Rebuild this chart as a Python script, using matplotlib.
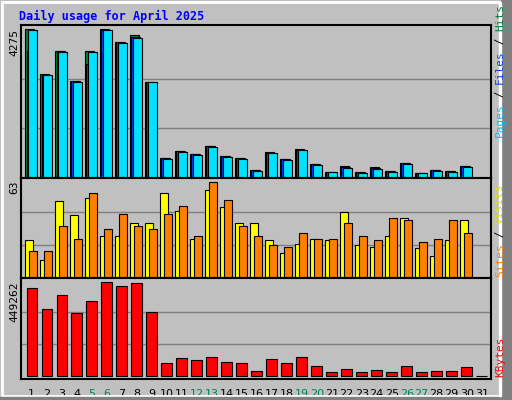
import numpy as np
import matplotlib.pyplot as plt
from matplotlib.patches import Rectangle

days = np.arange(1, 32)
hits = [4275, 2995, 3660, 2793, 3660, 4275, 3920, 4100, 2765, 569, 771, 684, 915, 627, 569, 222,
        722, 545, 810, 400, 170, 318, 170, 290, 200, 430, 140, 230, 200, 345, 0]
files = [3640, 2970, 3635, 2770, 3283, 4250, 3900, 4060, 2750, 555, 755, 670, 900, 610, 555, 210,
         705, 520, 795, 380, 160, 295, 150, 270, 185, 410, 120, 215, 185, 325, 0]
pages = [4245, 2966, 3630, 2765, 3630, 4250, 3890, 4035, 2765, 540, 742, 655, 886, 598, 540, 200,
         700, 505, 790, 365, 160, 270, 130, 250, 170, 395, 130, 199, 170, 308, 0]
visits = [24, 11.5, 49, 40, 51, 27, 27, 35, 35, 54, 43, 25, 56, 45, 35, 35,
          24, 16, 22, 25, 24.5, 42, 21, 20, 27, 38, 19, 14, 24, 37, 0]
sites = [17, 17, 33, 25, 54, 31, 41, 33, 31, 41, 46, 27, 61, 50, 33, 27,
         21, 20, 29, 25, 25, 35, 27, 24, 38, 37, 23, 25, 37, 29, 0]
kbytes = [408000, 312600, 379000, 293000, 351000, 437000, 418000, 432000, 298000, 59000, 83000,
          74000, 88000, 64000, 59000, 21000, 78000, 59000, 88000, 45000, 16000, 31000, 16000,
          26000, 16000, 45000, 16000, 21000, 21000, 40000, 0]
weekends = [5, 6, 12, 13, 19, 20, 26, 27]

W, H = 512, 400
fig = plt.figure(figsize=(W / 100, H / 100), dpi=100)
fig.patch.set_facecolor('#C0C0C0')
mono = 'DejaVu Sans Mono'


def px_axes(x0, y0, x1, y1):
    ax = fig.add_axes([x0 / W, 1 - y1 / H, (x1 - x0) / W, (y1 - y0) / H])
    ax.set_facecolor('#C0C0C0')
    ax.set_xticks([])
    ax.set_yticks([])
    for s in ax.spines.values():
        s.set_linewidth(1.5)
    ax.set_xlim(0.713, 32.05)
    return ax


# frame
fig.add_artist(Rectangle((2 / W, 4 / H), 506 / W, 394 / H, transform=fig.transFigure,
                         fill=False, edgecolor='white', lw=2))
fig.add_artist(Rectangle((0, 0), 1, 3 / H, transform=fig.transFigure, color='#808080'))
fig.add_artist(Rectangle((1 - 11 / W, 0), 11 / W, 1, transform=fig.transFigure, color='#808080'))
fig.add_artist(Rectangle((1 - 13 / W, 4 / H), 2 / W, 394 / H, transform=fig.transFigure, color='white'))

fig.text(19 / W, 1 - 16 / H, 'Daily usage for April 2025', color='#0000FF', fontsize=8.5,
         family=mono, fontweight='bold', va='center')

kw = dict(edgecolor='black', linewidth=0.8, align='edge')

# hits / files / pages
ax1 = px_axes(20.7, 25, 490.7, 177.5)
ax1.set_ylim(0, 4399)
for g in (1425, 2850):
    ax1.axhline(g, color='#808080', lw=1, zorder=0)
ax1.bar(days, hits, width=0.6, color='#008040', **kw)
ax1.bar(days + 0.1, files, width=0.6, color='#0040FF', **kw)
ax1.bar(days + 0.2, pages, width=0.6, color='#00E0FF', **kw)

# visits / sites
ax2 = px_axes(20.7, 177.5, 490.7, 278)
ax2.set_ylim(0, 64.1)
for g in (21, 42):
    ax2.axhline(g, color='#808080', lw=1, zorder=0)
ax2.bar(days, visits, width=0.55, color='#FFFF00', **kw)
ax2.bar(days + 0.27, sites, width=0.5, color='#FF8000', **kw)

# kbytes
ax3 = px_axes(20.7, 278, 490.7, 379)
ax3.set_ylim(-15800, 457000)
for g in (149754, 299508):
    ax3.axhline(g, color='#808080', lw=1, zorder=0)
ax3.bar(days + 0.1, kbytes, width=0.67, color='#FF0000', **kw)

# max labels
for y, txt in ((29, '4275'), (181, '63'), (281, '449262')):
    fig.text(19 / W, 1 - y / H, txt, rotation=90, ha='right', va='top', fontsize=8, family=mono)

# day labels
for d in days:
    c = '#00805F' if d in weekends else 'black'
    ax3.text(d + 0.45, -0.1, str(d), transform=ax3.get_xaxis_transform(), ha='center',
             va='top', fontsize=8, color=c)


def side_label(parts, y_bottom):
    y = y_bottom
    for txt, col in parts:
        t = fig.text(500 / W, 1 - y / H, txt, rotation=90, color=col, ha='center',
                     va='bottom', fontsize=8, family=mono)
        y -= len(txt) * 6.6


side_label([('Pages', '#00C0FF'), (' / ', 'black'), ('Files', '#0040FF'),
            (' / ', 'black'), ('Hits', '#008040')], 137)
side_label([('Sites', '#FF8000'), (' / ', 'black'), ('Visits', '#E0E000')], 277)
side_label([('KBytes', '#FF0000')], 377)

fig.savefig('out.png', dpi=100, facecolor=fig.get_facecolor())
